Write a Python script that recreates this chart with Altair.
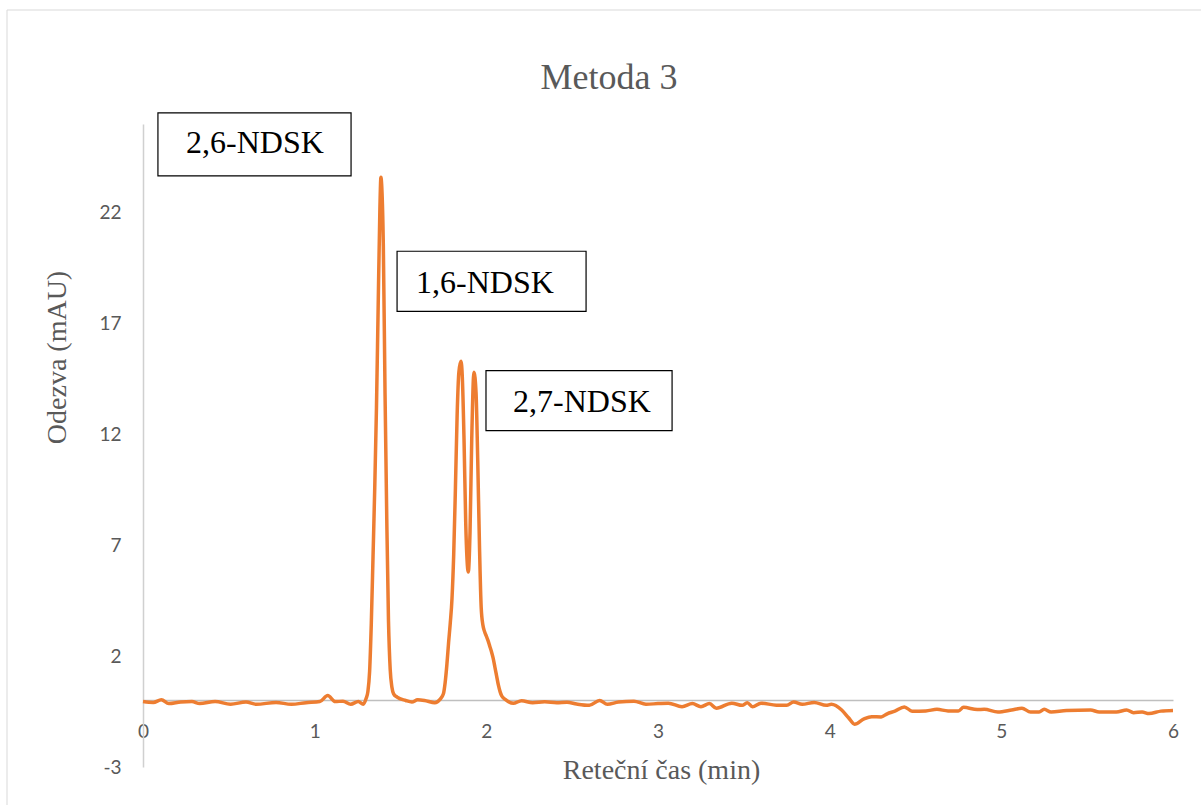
import altair as alt
import pandas as pd

# Chromatogram trace (retention time in min, response in mAU)
time_min = [0, 0.06, 0.107, 0.15, 0.22, 0.285, 0.33, 0.42, 0.51, 0.60, 0.66, 0.775, 0.864, 0.95,
            1.03, 1.076, 1.12, 1.165, 1.21, 1.254, 1.283, 1.30, 1.31, 1.32, 1.33, 1.34, 1.35, 1.36,
            1.37, 1.38, 1.386, 1.39, 1.40, 1.41, 1.42, 1.43, 1.44, 1.45, 1.46, 1.48, 1.53, 1.566,
            1.60, 1.64, 1.70, 1.73, 1.75, 1.76, 1.77, 1.78, 1.79, 1.80, 1.81, 1.82, 1.83, 1.84,
            1.852, 1.86, 1.87, 1.88, 1.895, 1.905, 1.915, 1.928, 1.94, 1.95, 1.96, 1.97, 1.98,
            1.99, 2.00, 2.01, 2.02, 2.03, 2.04, 2.05, 2.06, 2.07, 2.08, 2.09, 2.11, 2.157, 2.205,
            2.27, 2.34, 2.41, 2.47, 2.526, 2.60, 2.66, 2.705, 2.77, 2.86, 2.93, 3.0, 3.06, 3.14,
            3.2, 3.25, 3.3, 3.34, 3.43, 3.49, 3.52, 3.55, 3.6, 3.69, 3.75, 3.79, 3.84, 3.91, 3.98,
            4.01, 4.07, 4.11, 4.145, 4.2, 4.245, 4.3, 4.335, 4.38, 4.435, 4.48, 4.56, 4.625, 4.69,
            4.75, 4.78, 4.86, 4.9, 4.98, 5.06, 5.12, 5.17, 5.22, 5.25, 5.29, 5.38, 5.52, 5.57,
            5.67, 5.73, 5.77, 5.82, 5.86, 5.93, 6.0]
response_mau = [-0.05, -0.09, 0.03, -0.14, -0.07, -0.05, -0.14, -0.05, -0.17, -0.07, -0.17, -0.09,
                -0.17, -0.10, -0.05, 0.22, -0.05, -0.03, -0.17, -0.05, -0.17, 0.1, 0.4, 1.3, 3.5,
                6.5, 9.6, 13.2, 17.8, 22.2, 23.6, 23.3, 20.5, 13.8, 8.2, 3.6, 1.4, 0.6, 0.3, 0.15,
                0.0, -0.07, 0.03, 0.0, -0.10, 0.05, 0.3, 0.8, 1.6, 2.6, 3.5, 4.6, 6.6, 9.6, 12.9,
                14.8, 15.3, 14.6, 11.8, 8.0, 5.8, 7.6, 11.8, 14.8, 13.9, 10.8, 7.0, 4.2, 3.4, 3.1,
                2.9, 2.7, 2.45, 2.2, 1.9, 1.5, 1.1, 0.7, 0.4, 0.2, 0.05, -0.13, -0.01, -0.10,
                -0.06, -0.10, -0.08, -0.16, -0.22, 0.0, -0.17, -0.07, -0.03, -0.17, -0.14, -0.12,
                -0.28, -0.14, -0.28, -0.14, -0.35, -0.12, -0.22, -0.10, -0.28, -0.12, -0.21, -0.21,
                -0.07, -0.17, -0.09, -0.22, -0.17, -0.43, -0.78, -1.07, -0.83, -0.73, -0.74, -0.60,
                -0.48, -0.29, -0.48, -0.47, -0.40, -0.47, -0.47, -0.31, -0.41, -0.40, -0.52, -0.43,
                -0.35, -0.52, -0.52, -0.40, -0.52, -0.45, -0.43, -0.52, -0.52, -0.43, -0.55, -0.52,
                -0.59, -0.48, -0.45]

# Peak labels (text boxes) in data coordinates
peak_names = ["2,6-NDSK", "1,6-NDSK", "2,7-NDSK"]
box_x1 = [0.087, 1.480, 1.998]
box_x2 = [1.212, 2.581, 3.082]
box_y1 = [26.5, 20.26, 14.88]
box_y2 = [23.66, 17.55, 12.17]
label_x = [0.652, 1.992, 2.557]
label_y = [24.69, 18.40, 13.02]

x_ticks = [0, 1, 2, 3, 4, 5, 6]
y_ticks = [-3, 2, 7, 12, 17, 22]
chart_title = ["Metoda 3"]

trace = pd.DataFrame({"t": time_min, "v": response_mau})
boxes = pd.DataFrame({"name": peak_names, "x1": box_x1, "x2": box_x2, "y1": box_y1,
                      "y2": box_y2, "lx": label_x, "ly": label_y})
title_df = pd.DataFrame({"title": chart_title})

GRAY = "#595959"
SERIF = "Liberation Serif"
SANS = "Lato"

xscale = alt.Scale(domain=[0, 6], nice=False, zero=False)
yscale = alt.Scale(domain=[-3, 26], nice=False, zero=False)

frame = alt.Chart(title_df).mark_rect(fill=None, stroke="#d9d9d9", strokeWidth=1).encode(
    x=alt.value(-136), x2=alt.value(1200), y=alt.value(-114), y2=alt.value(900)
)

title = alt.Chart(title_df).mark_text(font=SERIF, fontSize=36, color=GRAY, align="center",
                                      baseline="alphabetic").encode(
    x=alt.value(466), y=alt.value(-35), text="title:N"
)

line = alt.Chart(trace).mark_line(color="#ED7D31", strokeWidth=3.5, interpolate="monotone").encode(
    x=alt.X("t:Q", scale=xscale,
            axis=alt.Axis(values=x_ticks, title="Retečn\u00ed čas (min)", offset=-67, ticks=False,
                          grid=False, domainColor="#bfbfbf", domainWidth=1.5,
                          labelExpr="'' + datum.value", labelFlush=False,
                          labelFont=SANS, labelFontSize=19, labelColor=GRAY, labelPadding=22,
                          titleFont=SERIF, titleFontSize=28, titleFontWeight="normal",
                          titleColor=GRAY, titleX=518, titleY=70, titleBaseline="middle",
                          titleAlign="center")),
    y=alt.Y("v:Q", scale=yscale,
            axis=alt.Axis(values=y_ticks, title="Odezva (mAU)", ticks=False, grid=False,
                          domainColor="#d0d0d0", domainWidth=1.5,
                          labelExpr="'' + datum.value", labelFlush=False,
                          labelFont=SANS, labelFontSize=19, labelColor=GRAY, labelPadding=22,
                          titleFont=SERIF, titleFontSize=28, titleFontWeight="normal",
                          titleColor=GRAY, titleX=-86, titleY=233, titleAngle=270,
                          titleBaseline="middle", titleAlign="center")),
)

rects = alt.Chart(boxes).mark_rect(fill="white", stroke="black", strokeWidth=1.2).encode(
    x="x1:Q", x2="x2:Q", y="y1:Q", y2="y2:Q"
)

labels = alt.Chart(boxes).mark_text(font=SERIF, fontSize=32, color="black",
                                    align="center", baseline="alphabetic").encode(
    x="lx:Q", y="ly:Q", text="name:N"
)

chart = alt.layer(frame, title, line, rects, labels).properties(
    width=1030, height=643,
    autosize=alt.AutoSizeParams(type="none"),
    padding={"left": 143, "top": 124, "right": 28, "bottom": 38},
    background="white",
).configure_view(stroke=None)

chart.save("out.html", embed_options={"renderer": "svg", "actions": False})
